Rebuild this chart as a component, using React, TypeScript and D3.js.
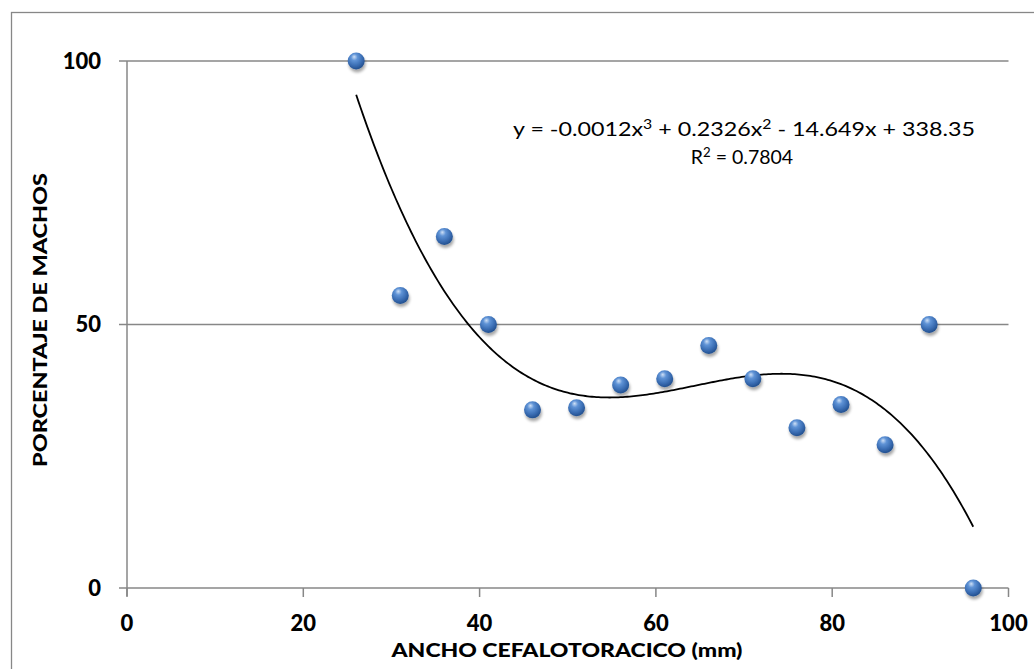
import React from "react";
import * as d3 from "d3";

const xValues = [26, 31, 36, 41, 46, 51, 56, 61, 66, 71, 76, 81, 86, 91, 96];
const yValues = [100, 55.5, 66.7, 50, 33.8, 34.2, 38.5, 39.7, 46, 39.7, 30.4, 34.8, 27.2, 50, 0];
const xTicks = [0, 20, 40, 60, 80, 100];
const yTicks = [0, 50, 100];
const equationParts = [
  { t: "y = -0.0012x", sup: false },
  { t: "3", sup: true },
  { t: " + 0.2326x", sup: false },
  { t: "2", sup: true },
  { t: " - 14.649x + 338.35", sup: false },
];
const r2Parts = [
  { t: "R", sup: false },
  { t: "2", sup: true },
  { t: " = 0.7804", sup: false },
];
const xTitle = "ANCHO CEFALOTORACICO (mm)";
const yTitle = "PORCENTAJE DE  MACHOS";

// least-squares cubic fit from the data
function cubicFit(xs: number[], ys: number[]): number[] {
  const n = 4;
  const A: number[][] = Array.from({ length: n }, () => new Array(n + 1).fill(0));
  xs.forEach((x, k) => {
    const p = [1, x, x * x, x * x * x];
    for (let i = 0; i < n; i++) {
      for (let j = 0; j < n; j++) A[i][j] += p[i] * p[j];
      A[i][n] += p[i] * ys[k];
    }
  });
  for (let i = 0; i < n; i++) {
    let m = i;
    for (let r = i + 1; r < n; r++) if (Math.abs(A[r][i]) > Math.abs(A[m][i])) m = r;
    [A[i], A[m]] = [A[m], A[i]];
    for (let r = 0; r < n; r++) {
      if (r === i) continue;
      const f = A[r][i] / A[i][i];
      for (let c = i; c <= n; c++) A[r][c] -= f * A[i][c];
    }
  }
  return A.map((row, i) => row[n] / row[i]);
}

function Sup({ parts, size }: { parts: { t: string; sup: boolean }[]; size: number }) {
  return (
    <>
      {parts.map((p, i) =>
        p.sup ? (
          <tspan key={i} fontSize={size * 0.68} dy={-size * 0.38}>{p.t}</tspan>
        ) : (
          <tspan key={i} dy={i > 0 && parts[i - 1].sup ? size * 0.38 : 0}>{p.t}</tspan>
        )
      )}
    </>
  );
}

export default function App() {
  const W = 1034, H = 669;
  const x = d3.scaleLinear().domain([0, 100]).range([127, 1008.5]);
  const y = d3.scaleLinear().domain([0, 100]).range([588, 61]);
  const coef = cubicFit(xValues, yValues);
  const f = (v: number) => coef[0] + coef[1] * v + coef[2] * v * v + coef[3] * v * v * v;
  const xMin = d3.min(xValues)!, xMax = d3.max(xValues)!;
  const curvePts = d3.range(xMin, xMax + 0.001, 0.25).map((v) => [v, f(v)] as [number, number]);
  const line = d3.line<[number, number]>().x((d) => x(d[0])).y((d) => y(d[1]));
  const gray = "#878787";
  const font = "Lato, 'Open Sans', sans-serif";
  const eqSize = 19.5;

  return (
    <div style={{ position: "absolute", left: 0, top: 0 }}>
      <svg width={W} height={H} style={{ display: "block", background: "#fff" }}>
        <defs>
          <radialGradient id="ball" cx="42%" cy="35%" r="65%" fx="38%" fy="25%">
            <stop offset="0%" stopColor="#cfe0f6" />
            <stop offset="30%" stopColor="#5f93d6" />
            <stop offset="70%" stopColor="#3a6db3" />
            <stop offset="100%" stopColor="#224f8e" />
          </radialGradient>
          <filter id="shadow" x="-60%" y="-60%" width="220%" height="220%">
            <feGaussianBlur in="SourceAlpha" stdDeviation="1.8" />
            <feOffset dx="0.5" dy="2.5" result="b" />
            <feComponentTransfer><feFuncA type="linear" slope="0.35" /></feComponentTransfer>
            <feMerge><feMergeNode /><feMergeNode in="SourceGraphic" /></feMerge>
          </filter>
        </defs>
        <rect x={11.5} y={12.5} width={W} height={H} fill="none" stroke={gray} strokeWidth={1.3} />
        {yTicks.map((t) => (
          <g key={"y" + t}>
            <line x1={119} x2={x(100)} y1={y(t)} y2={y(t)} stroke={gray} strokeWidth={1.5} />
            <text x={101} y={y(t)} dy="0.36em" textAnchor="end" fontFamily={font} fontWeight="900" fontSize={22} fill="#000">{t}</text>
          </g>
        ))}
        <line x1={x(0)} x2={x(0)} y1={y(100)} y2={y(0) + 8} stroke={gray} strokeWidth={1.5} />
        {xTicks.map((t) => (
          <g key={"x" + t}>
            <line x1={x(t)} x2={x(t)} y1={y(0)} y2={y(0) + 9} stroke={gray} strokeWidth={1.5} />
            <text x={x(t)} y={623} dy="0.36em" textAnchor="middle" fontFamily={font} fontWeight="900" fontSize={22} fill="#000">{t}</text>
          </g>
        ))}
        <path d={line(curvePts)!} fill="none" stroke="#000" strokeWidth={1.8} />
        {xValues.map((v, i) => (
          <circle key={i} cx={x(v)} cy={y(yValues[i])} r={8.5} fill="url(#ball)" filter="url(#shadow)" />
        ))}
        <text x={513} y={136} fontFamily={font} fontSize={eqSize} fill="#000" textLength={462} lengthAdjust="spacingAndGlyphs">
          <Sup parts={equationParts} size={eqSize} />
        </text>
        <text x={742} y={164} textAnchor="middle" fontFamily={font} fontSize={eqSize} fill="#000">
          <Sup parts={r2Parts} size={eqSize} />
        </text>
        <text x={567} y={657} textAnchor="middle" fontFamily={font} fontWeight="900" fontSize={18} fill="#000" textLength={351} lengthAdjust="spacingAndGlyphs">{xTitle}</text>
        <text transform={`translate(47,320) rotate(-90)`} textAnchor="middle" fontFamily={font} fontWeight="900" fontSize={18} fill="#000" textLength={294} lengthAdjust="spacingAndGlyphs">{yTitle}</text>
      </svg>
    </div>
  );
}
